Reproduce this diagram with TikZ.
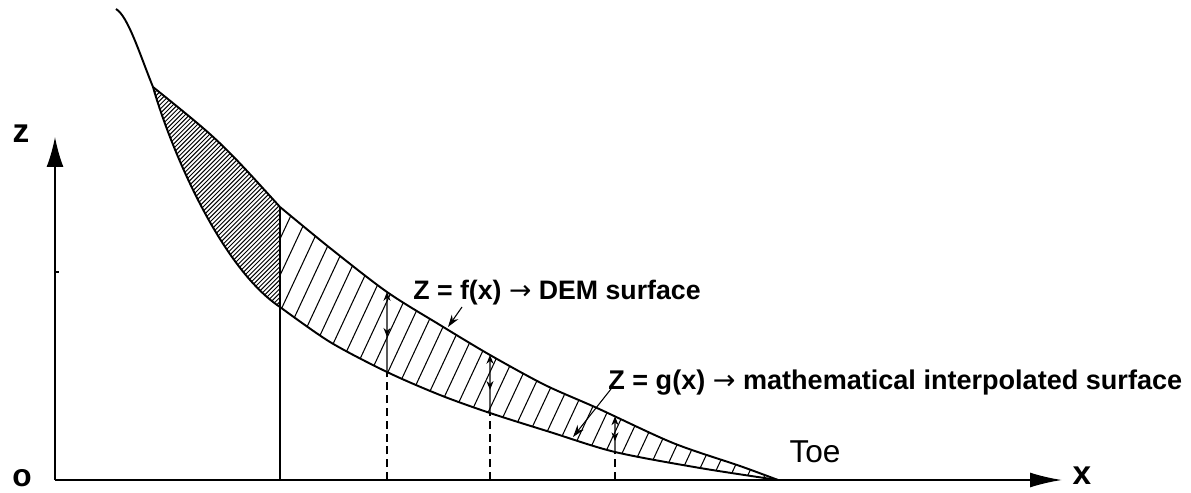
\documentclass[tikz,border=0pt]{standalone}
\usepackage{fontspec}
\setmainfont{Liberation Sans}
\newfontfamily\arrowfont{DejaVu Sans}
\usetikzlibrary{calc, positioning}
\usetikzlibrary{arrows.meta}
\usetikzlibrary{decorations.markings}
\usetikzlibrary{intersections}

\newcommand{\toarrow}{{\arrowfont\mdseries →}}

\tikzset{
  surface/.style={line width=1.1pt, line join=round},
  hatch/.style={line width=0.5pt},
  leader/.style={line width=0.6pt, -{Stealth[length=7pt,width=4.5pt]}},
  gap/.style={line width=0.6pt, -{Stealth[length=5pt,width=4pt]},
    postaction={decorate},
    decoration={markings, mark=at position 0.55 with {\arrow{Stealth[length=5pt,width=4pt,reversed]}}}},
}

\begin{document}
\begin{tikzpicture}
\useasboundingbox (0,0) rectangle (23.82,9.84);

\coordinate (O) at (1.10,0.24);
\coordinate (ztip) at (1.10,7.10);
\coordinate (xtip) at (21.24,0.24);
\coordinate (P) at (3.06,8.10);
\coordinate (Q) at (5.60,5.70);
\coordinate (R) at (5.60,3.70);
\coordinate (T) at (15.56,0.24);

% dense hatching of the wedge
\begin{scope}
  \clip (P) .. controls (4.40,7.02) .. (Q) -- (R)
    .. controls (4.4,4.5) and (3.4,6.9) .. (P) -- cycle;
  \foreach \c in {-5.6,-5.512,...,2.5}
    \draw[hatch, line width=0.55pt] (\c,0) -- ++(10,10);
\end{scope}

% wide hatching of the band
\begin{scope}
  \clip plot[smooth] coordinates {(Q) (6.60,4.88) (7.74,4.00) (8.80,3.34) (9.80,2.74) (10.90,2.14) (11.94,1.68) (13.46,0.98) (14.80,0.52) (T)}
    -- plot[smooth] coordinates {(T) (14.00,0.48) (12.30,0.80) (11.00,1.20) (9.80,1.58) (8.80,1.94) (7.74,2.40) (6.60,3.00) (R)}
    -- cycle;
  \foreach \c in {2.9,3.24,...,15.8}
    \draw[hatch, line width=0.6pt] (\c,0) -- ++(65:8);
\end{scope}

% axes
\draw[line width=0.9pt, -{Latex[length=0.6cm,width=0.34cm]}] (O) -- (ztip);
\draw[line width=1.1pt, -{Latex[length=0.64cm,width=0.30cm]}] (O) -- (xtip);
\draw[line width=0.6pt] (1.10,4.40) -- ++(0.07,0);

% surfaces
\draw[surface] (2.32,9.66) .. controls (2.56,9.52) and (2.80,8.74) .. (P);
\draw[surface] (P) .. controls (4.40,7.02) .. (Q);
\draw[surface] (R) .. controls (4.4,4.5) and (3.4,6.9) .. (P);
\draw[surface, name path=fcurve] plot[smooth] coordinates {(Q) (6.60,4.88) (7.74,4.00) (8.80,3.34) (9.80,2.74) (10.90,2.14) (11.94,1.68) (13.46,0.98) (14.80,0.52) (T)};
\draw[surface, name path=gcurve] plot[smooth] coordinates {(T) (14.00,0.48) (12.30,0.80) (11.00,1.20) (9.80,1.58) (8.80,1.94) (7.74,2.40) (6.60,3.00) (R)};

% verticals
\draw[line width=0.7pt] (Q |- O) -- (Q);
\foreach \x/\n in {7.74/a, 9.80/b, 12.30/c} {
  \path[name path=vert] (\x,0) -- (\x,9);
  \path[name intersections={of=fcurve and vert, by={f\n}}];
  \path[name intersections={of=gcurve and vert, by={g\n}}];
  \draw[line width=0.9pt, dash pattern=on 4.5pt off 2.8pt] (g\n |- O) -- (g\n);
  \draw[gap] (g\n) -- (f\n);
}

% labels
\node[font=\bfseries\fontsize{19}{20}\selectfont] (zlab) at (0.42,7.16) {z};
\node[font=\bfseries\fontsize{18}{20}\selectfont] (olab) at (0.44,0.27) {o};
\node[font=\bfseries\fontsize{19}{20}\selectfont] (xlab) at (21.64,0.32) {x};
\node[font=\fontsize{18}{20}\selectfont] (toe) at (16.30,0.80) {Toe};

\node[anchor=west, inner sep=0pt, font=\bfseries\fontsize{15.2}{17}\selectfont] (flabel) at (8.26,3.98) {Z = f(x) \toarrow{} DEM surface};
\node[anchor=west, inner sep=0pt, font=\bfseries\fontsize{15.4}{17}\selectfont] (glabel) at (12.16,2.18) {Z = g(x) \toarrow{} mathematical interpolated surface};

\coordinate (fstart) at (9.24,3.70);
\coordinate (fpt) at (8.96,3.30);
\coordinate (gstart) at (12.22,2.06);
\coordinate (gpt) at (11.46,1.10);
\draw[leader] (fstart) -- (fpt);
\draw[leader] (gstart) -- (gpt);
\end{tikzpicture}
\end{document}
